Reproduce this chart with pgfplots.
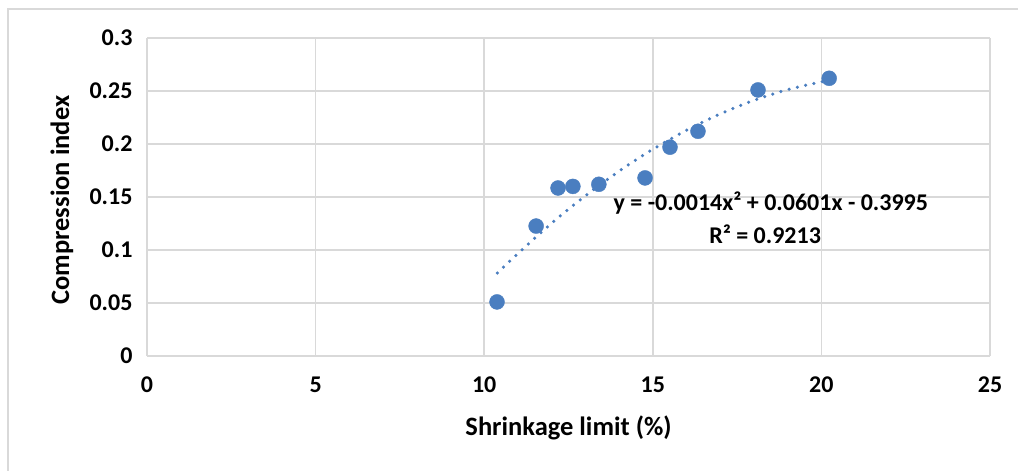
\documentclass[border=0pt]{standalone}
\usepackage{pgfplots}
\pgfplotsset{compat=1.18}
\usepackage{fontspec}
\setmainfont{Carlito}
\definecolor{ptblue}{HTML}{4A7EC0}
\definecolor{gridgray}{HTML}{D9D9D9}
\begin{document}
\begin{tikzpicture}[x=1pt,y=1pt]
\path[use as bounding box, fill=white] (0,0) rectangle (1018,471);
\draw[gridgray, line width=2pt] (8,0) -- (8,462) -- (1018,462);
\begin{axis}[
  at={(147pt,115pt)}, anchor=south west,
  scale only axis, width=843pt, height=318pt,
  xmin=0, xmax=25, ymin=0, ymax=0.3,
  xtick={0,5,10,15,20,25},
  ytick={0,0.05,0.1,0.15,0.2,0.25,0.3},
  grid=major,
  major grid style={gridgray, line width=1.5pt},
  axis line style={gridgray, line width=1.5pt},
  axis x line*=bottom, axis y line*=left,
  major tick length=0pt,
  tick style={draw=none},
  /pgf/number format/.cd, fixed, precision=2, assume math mode=true,
  /pgfplots/.cd,
  ticklabel style={font=\fontsize{24}{28}\selectfont\bfseries},
  yticklabel style={xshift=-11pt},
  xticklabel style={yshift=-17pt},
  xlabel={Shrinkage limit (\%)},
  ylabel={Compression index},
  label style={font=\fontsize{26.5}{30}\selectfont\bfseries},
  xlabel style={at={(axis description cs:0.5,-0.2264)}, anchor=center},
  ylabel style={at={(axis description cs:-0.1008,0.49)}, anchor=center},
  clip=false,
]
% trendline
\addplot[ptblue, line width=3.5pt, line cap=round, dash pattern=on 0pt off 8.5pt, smooth]
 coordinates {(10.39,0.0783) (11,0.0967) (12,0.1253) (13,0.1511) (14,0.1744) (15,0.1950) (16,0.2130) (17,0.2284) (18,0.2412) (19,0.2513) (20.1,0.2594)};
% data
\addplot[only marks, mark=*, mark size=7.5pt, mark options={fill=ptblue, draw=ptblue}]
 coordinates {(10.38,0.051) (11.54,0.1226) (12.19,0.1585) (12.63,0.160) (13.40,0.162) (14.77,0.168) (15.51,0.197) (16.34,0.212) (18.12,0.251) (20.23,0.262)};
\node[font=\fontsize{24}{28}\selectfont\bfseries, anchor=center] at (axis cs:18.5,0.1443) {y = -0.0014x² + 0.0601x - 0.3995};
\node[font=\fontsize{24}{28}\selectfont\bfseries, anchor=center] at (axis cs:18.33,0.1151) {R² = 0.9213};
\end{axis}
\end{tikzpicture}
\end{document}
